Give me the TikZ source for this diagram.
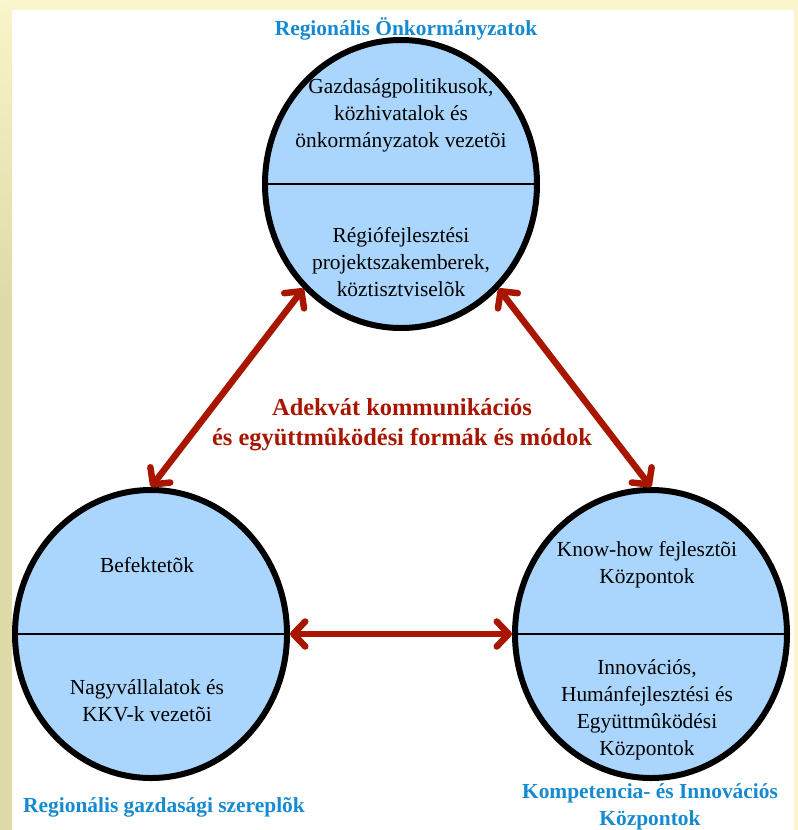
\documentclass[tikz,border=0pt]{standalone}
\usepackage{fontspec}
\setmainfont{Liberation Serif}
\usetikzlibrary{shapes.geometric,arrows.meta}
\definecolor{cream}{RGB}{248,246,202}
\definecolor{olive}{RGB}{221,219,167}
\definecolor{cfill}{RGB}{170,214,254}
\definecolor{dred}{RGB}{168,22,0}
\definecolor{lblue}{RGB}{22,138,208}
\tikzset{
  circ/.style={ellipse, fill=cfill, minimum width=272bp, minimum height=288bp, inner sep=0pt, outer sep=3bp},
  rim/.style={line width=6bp, draw=black},
  divline/.style={line width=2bp, draw=black},
  arr/.style={draw=dred, line width=6.5bp, {Straight Barb[length=12bp,width=25bp,round]}-{Straight Barb[length=12bp,width=25bp,round]}},
  btxt/.style={align=center, text=black, font=\fontsize{21.5}{27}\selectfont, inner sep=0pt},
  rtxt/.style={align=center, text=dred, font=\bfseries\fontsize{24.5}{30}\selectfont, inner sep=0pt},
  ltxt/.style={align=center, text=lblue, font=\bfseries\fontsize{21.5}{27}\selectfont, inner sep=0pt}
}
\begin{document}
\begin{tikzpicture}[x=1bp,y=-1bp]
\useasboundingbox (0,0) rectangle (798,830);
\fill[cream] (0,0) rectangle (798,830);
\shade[top color=cream, bottom color=olive] (0,0) rectangle (12,300);
\fill[olive] (0,300) rectangle (12,830);
\fill[white] (12,10) rectangle (794,830);

\node[circ] (T) at (401,184) {};
\node[circ] (BL) at (151,634) {};
\node[circ] (BR) at (651,634) {};
\foreach \c in {T,BL,BR}{
  \draw[divline] (\c.west) -- (\c.east);
  \draw[rim] (\c.center) ellipse [x radius=136bp, y radius=144bp];
}

\draw[arr] (T.227) -- (BL.north);
\draw[arr] (T.313) -- (BR.north);
\draw[arr] (BL.east) -- (BR.west);

\node[btxt] (t1) at (401,115) {Gazdaságpolitikusok,\\közhivatalok és\\önkormányzatok vezetõi};
\node[btxt] (t2) at (401,262) {Régiófejlesztési\\projektszakemberek,\\köztisztviselõk};
\node[btxt] (l1) at (147,565) {Befektetõk};
\node[btxt] (l2) at (147,701) {Nagyvállalatok és\\KKV-k vezetõi};
\node[btxt] (r1) at (647,565) {Know-how fejlesztõi\\Központok};
\node[btxt] (r2) at (647,710) {Innovációs,\\Humánfejlesztési és\\Együttmûködési\\Központok};

\node[rtxt] (mid) at (402,425) {Adekvát kommunikációs\\és együttmûködési formák és módok};

\node[ltxt] (lt) at (406,29) {Regionális Önkormányzatok};
\node[ltxt] (ll) at (164,807) {Regionális gazdasági szereplõk};
\node[ltxt] (lr) at (650,806.5) {Kompetencia- és Innovációs\\Központok};
\end{tikzpicture}
\end{document}
